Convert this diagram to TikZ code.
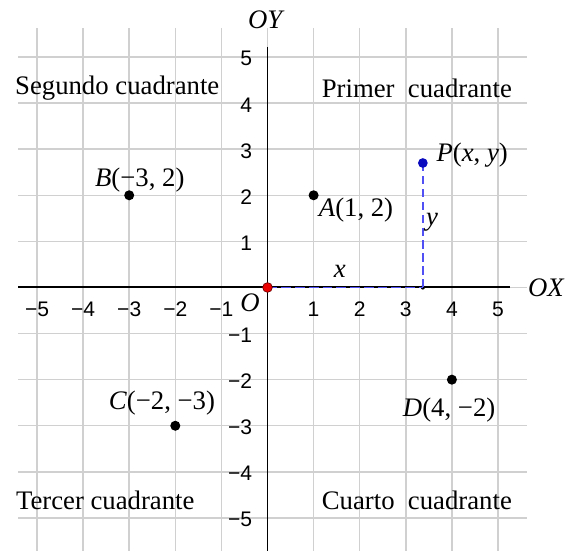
\documentclass[tikz,border=0pt]{standalone}
\usepackage{fontspec}
\setmainfont{Liberation Serif}
\newfontfamily\ticksans{Liberation Sans}
\usetikzlibrary{positioning}
\definecolor{gridGray}{RGB}{208,208,208}
\definecolor{dashBlue}{RGB}{80,80,245}
\definecolor{dotBlue}{RGB}{10,10,190}
\definecolor{dotRed}{RGB}{235,0,0}
\newcommand{\quadsize}{\fontsize{16.5}{19}\selectfont}
\newcommand{\ticksize}{\ticksans\fontsize{13}{15}\selectfont}

\begin{document}
\begin{tikzpicture}[x=1cm,y=1cm,line cap=butt,every node/.style={inner sep=1pt},
  gridline/.style={gridGray,line width=0.9pt},
  axisline/.style={black,line width=1.2pt},
  pdot/.style={circle,fill=black,inner sep=0pt,minimum size=6.2pt},
  lbl/.style={font=\quadsize},
  ticklbl/.style={font=\ticksize}]
\useasboundingbox (-5.803,-5.716) rectangle (6.497,6.236);
% cuadricula
\foreach \k in {-5,...,5} {
  \draw[gridline] (\k,5.63) -- (\k,-5.75);
  \draw[gridline] (-5.41,\k) -- (5.63,\k);
}
% ejes
\coordinate (xl) at (-5.41,0);\coordinate (xr) at (5.26,0);
\coordinate (yt) at (0,5.22);\coordinate (yb) at (0,-5.75);
\draw[axisline] (xl)--(xr);\draw[axisline] (yt)--(yb);
\node[font=\quadsize\itshape] (ox) at (6.04,0) {OX};
\node[font=\quadsize\itshape] (oy) at (-0.05,5.80) {OY};
\foreach \k/\t in {-5/−5,-4/−4,-3/−3,-2/−2,-1/−1,1/1,2/2,3/3,4/4,5/5} {
  \node[ticklbl] (tx\k) at (\k,-0.48) {\t};
  \node[ticklbl,anchor=east] (ty\k) at (-0.29,\k-0.04) {\t};
}
% punto P y sus proyecciones
\coordinate (Px) at (3.37,0);
\node[circle,fill=black,inner sep=0pt,minimum size=2.6pt] (foot) at (Px) {};
\draw[dashBlue,dashed,dash pattern=on 6pt off 2.5pt,line width=1.1pt] (0,0)--(foot.center);
\draw[dashBlue,dashed,dash pattern=on 5pt off 3pt,line width=1pt] (foot.center)--(3.37,2.70);
\node[pdot,fill=dotBlue,minimum size=6pt] (P) at (3.37,2.70) {};
\node[pdot,fill=dotRed,draw=black!60!red,line width=0.4pt,minimum size=6pt] (O) at (0,0) {};
\node[lbl,font=\quadsize\itshape] (xlab) at (1.57,0.34) {x};
\node[lbl,font=\quadsize\itshape] (ylab) at (3.57,1.42) {y};
\node[lbl,font=\quadsize\itshape] (olab) at (-0.38,-0.34) {O};
\node[lbl] (Plab) at (4.44,2.87) {\textit{P}(\textit{x}, \textit{y})};
% puntos
\node[pdot] (A) at (1,2) {};
\node[pdot] (B) at (-3,2) {};
\node[pdot] (C) at (-2,-3) {};
\node[pdot] (D) at (4,-2) {};
\node[lbl] (Alab) at (1.92,1.68) {\textit{A}(1,\ 2)};
\node[lbl] (Blab) at (-2.77,2.33) {\textit{B}(−3,\ 2)};
\node[lbl] (Clab) at (-2.29,-2.51) {\textit{C}(−2,\ −3)};
\node[lbl] (Dlab) at (3.94,-2.66) {\textit{D}(4,\ −2)};
% cuadrantes
\node[lbl] (q2) at (-3.26,4.33) {Segundo cuadrante};
\node[lbl] (q1) at (3.24,4.33) {Primer\ \ cuadrante};
\node[lbl] (q3) at (-3.52,-4.61) {Tercer cuadrante};
\node[lbl] (q4) at (3.24,-4.61) {Cuarto\ \ cuadrante};
\end{tikzpicture}
\end{document}
